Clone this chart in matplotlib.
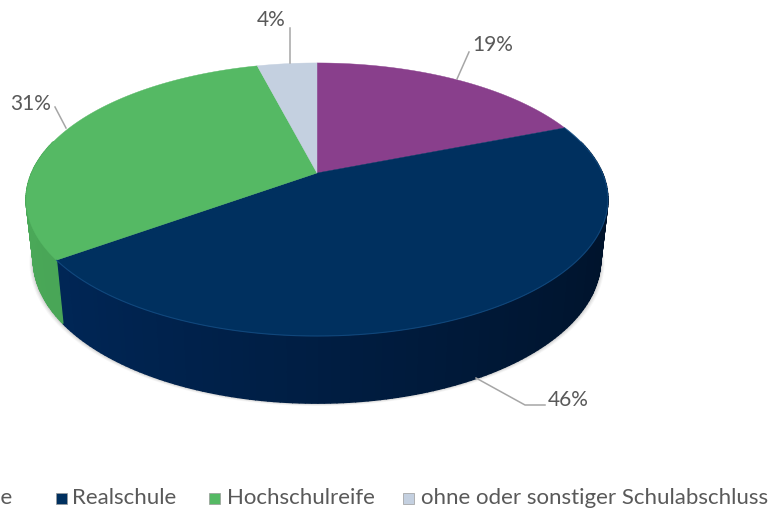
import numpy as np
import matplotlib
matplotlib.use('Agg')
import matplotlib.pyplot as plt
from matplotlib.patches import Polygon, Rectangle

categories = ['Hauptschule', 'Realschule', 'Hochschulreife', 'ohne oder sonstiger Schulabschluss']
shares = [19, 46, 31, 4]
top_colors = ['#893f8c', '#00305f', '#55b964', '#c4d0e0']
side_left = ['#6f3272', '#00285a', '#4aa858', '#a9b4c4']
side_right = ['#5c2960', '#00132b', '#3f8f4b', '#8c96a5']
text_color = '#595959'

plt.rcParams['font.family'] = ['Lato', 'DejaVu Sans']

# tilted disc, pixel coordinates
cx, cy = 317, 173
a, b, p = 285.4, 131.4, 0.194


def top_rim(t):
    u, v = np.sin(t), np.cos(t)
    d = 1 + p * v
    return cx + a * u / d, cy - b * v / d


def low_rim(t):
    x, y = top_rim(t)
    return cx + (x - cx) * 0.975, cy + (y - cy) * 1.05 + 59


fig = plt.figure(figsize=(7.71, 5.15), dpi=100)
ax = fig.add_axes([0, 0, 1, 1])
ax.set_xlim(0, 771)
ax.set_ylim(515, 0)
ax.axis('off')

# soft shadow under the edge
tt = np.linspace(0, 2 * np.pi, 300)
lx, ly = low_rim(tt)
for grow, alpha in [(4, 0.05), (3, 0.07), (2, 0.09), (1, 0.12)]:
    ax.add_patch(Polygon(np.c_[cx + (lx - cx) * (1 + grow / 290), ly + grow * 0.7],
                         closed=True, fc='#555555', ec='none', alpha=alpha, zorder=1))

edges = 2 * np.pi * np.cumsum([0] + shares) / sum(shares)


def blend(c1, c2, f):
    return tuple((1 - f) * np.array(matplotlib.colors.to_rgb(c1)) + f * np.array(matplotlib.colors.to_rgb(c2)))


# side wall, only the front part is visible
for i in range(len(shares)):
    ts = np.linspace(edges[i], edges[i + 1], 160)
    for t0, t1 in zip(ts[:-1], ts[1:]):
        if np.cos((t0 + t1) / 2) > 0.25:
            continue
        f = (np.sin((t0 + t1) / 2) + 1) / 2
        col = blend(side_left[i], side_right[i], f)
        x0, y0 = top_rim(t0)
        x1, y1 = top_rim(t1)
        x2, y2 = low_rim(t1)
        x3, y3 = low_rim(t0)
        ax.add_patch(Polygon([[x0, y0], [x1, y1], [x2, y2], [x3, y3]], closed=True,
                             fc=col, ec=col, lw=1.0, zorder=2))

# top face
for i in range(len(shares)):
    ts = np.linspace(edges[i], edges[i + 1], 120)
    x, y = top_rim(ts)
    pts = np.r_[[[cx, cy]], np.c_[x, y]]
    ax.add_patch(Polygon(pts, closed=True, fc=top_colors[i], ec=top_colors[i], lw=0.3, zorder=3))

# thin highlight along the front rim
ts = np.linspace(edges[1], edges[2], 200)
x, y = top_rim(ts)
ax.plot(x, y, color='#1c5a94', lw=0.8, alpha=0.6, zorder=4)

# leader lines and percent labels
leaders = [([457, 469], [79, 52]), ([476, 525, 545], [378, 405, 405]),
           ([66, 55], [128, 107]), ([290, 290], [63, 28])]
label_pos = [(493, 45), (568, 400), (31, 104), (271, 20)]
for s, (lxs, lys), (tx, ty) in zip(shares, leaders, label_pos):
    ax.plot(lxs, lys, color='#a6a6a6', lw=1.1, zorder=5)
    ax.text(tx, ty, f'{s}%', color=text_color, fontsize=15, ha='center', va='center', zorder=6)

# legend, first entry runs off the left side
marker_x = [-40, 56, 209, 403]
text_x = [12, 72, 227, 421]
for i, name in enumerate(categories):
    ax.add_patch(Rectangle((marker_x[i], 493), 11, 11, fc=top_colors[i], ec='#9a9a9a', lw=0.5, zorder=5))
    ha = 'right' if i == 0 else 'left'
    ax.text(text_x[i], 498, name, color=text_color, fontsize=16, ha=ha, va='center')

fig.savefig('out.png', dpi=100)
